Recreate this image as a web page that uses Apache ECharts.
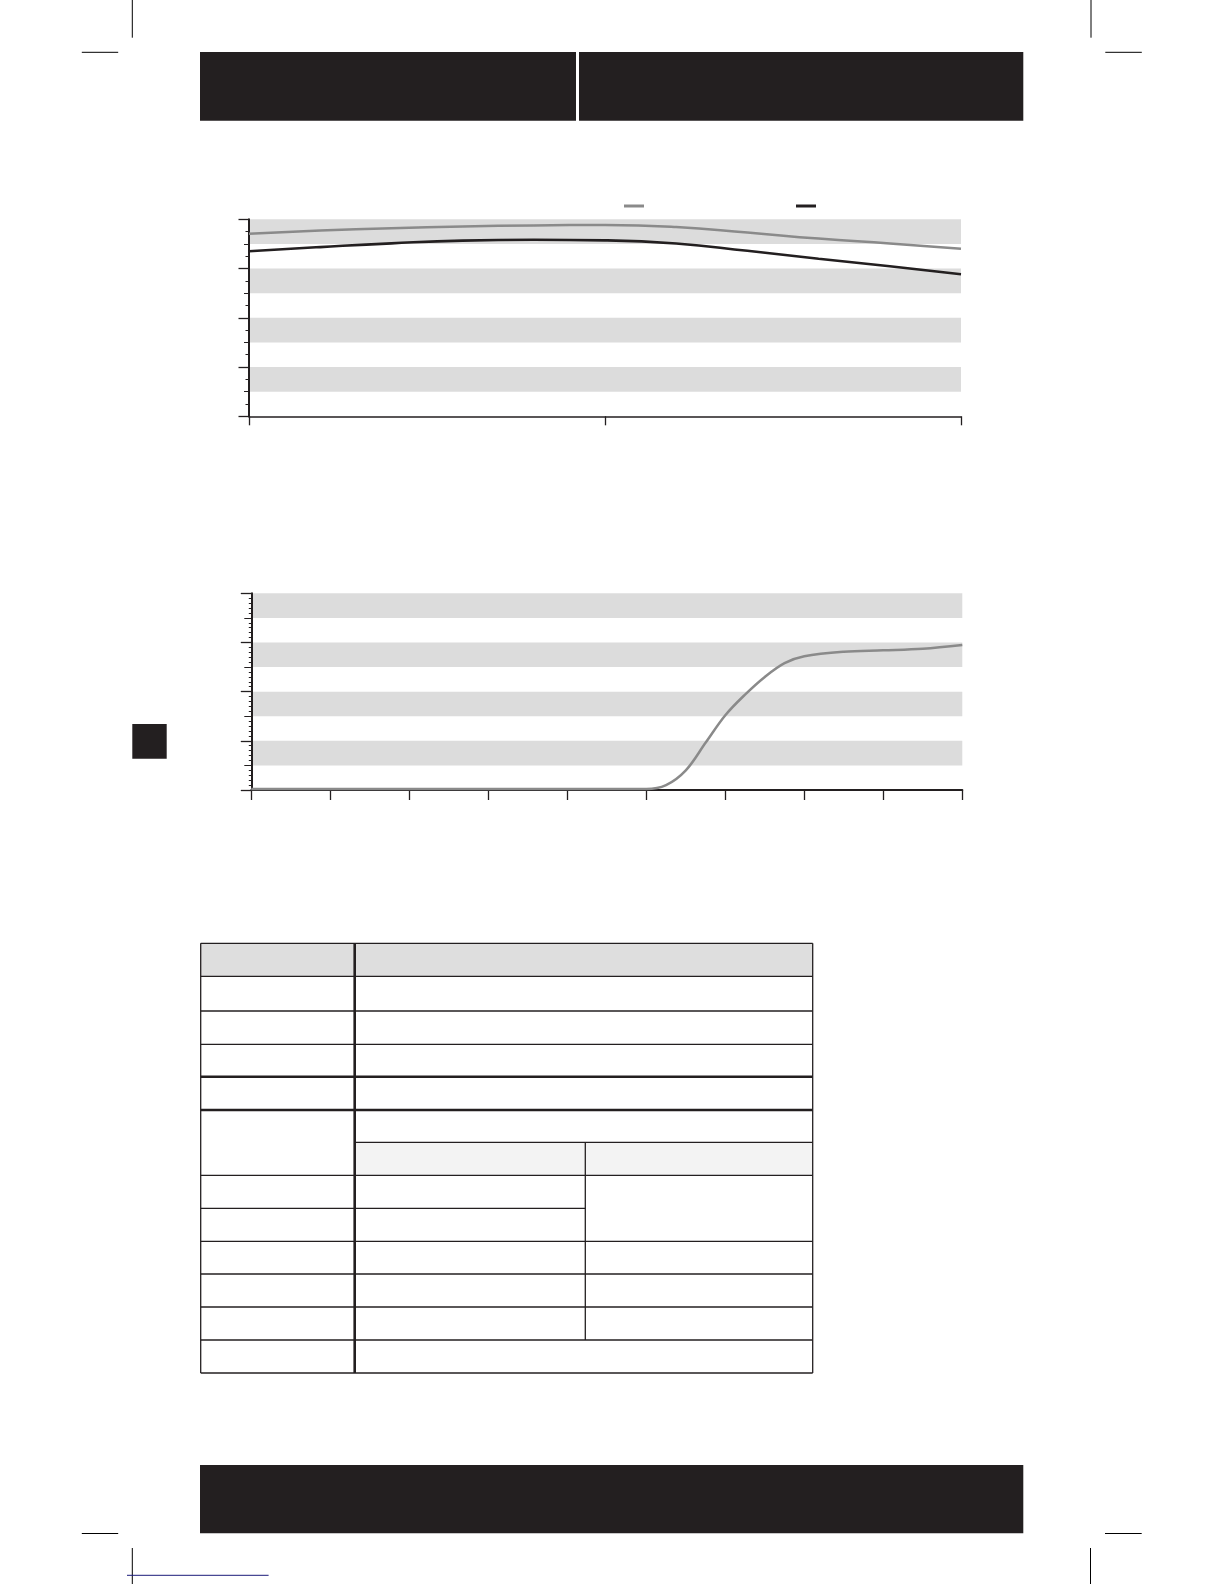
<!DOCTYPE html>
<html><head><meta charset="utf-8">
<script src="https://cdn.jsdelivr.net/npm/echarts@6/dist/echarts.min.js"></script>
<style>html,body{margin:0;padding:0;background:#fff}#c{width:1224px;height:1584px}</style>
</head><body><div id="c"></div>
<script>
// ---- data ----
const chart1X = [0, 10, 20, 30, 40, 50, 60, 70, 80, 90, 100];
const chart1Gray = [92.7, 94.3, 95.5, 96.4, 96.9, 97.1, 96.1, 93.3, 90.2, 87.7, 85.0];
const chart1Black = [83.8, 85.9, 87.8, 89.2, 89.6, 89.3, 87.7, 84.0, 80.0, 76.2, 72.1];
const chart2X = [0, 1, 2, 3, 4, 5, 5.25, 5.5, 5.75, 6, 6.25, 6.5, 6.75, 7, 7.5, 8, 8.5, 9];
const chart2Gray = [0.5, 0.5, 0.5, 0.5, 0.5, 0.5, 2.5, 10, 24, 38, 48.5, 57.5, 64.5, 68, 70.3, 71, 71.8, 73.7];
const seriesNames = ['s1', 's2', 's3'];

// ---- styles / layout ----
const INK = '#231f20';
const BAND = '#dcdcdc';
const GRAYLINE = '#8a8a8a';

function pairs(xs, ys) { return xs.map((x, i) => [x, ys[i]]); }

function line(x1, y1, x2, y2, w, color) {
  return { type: 'line', silent: true, shape: { x1, y1, x2, y2 },
    style: { stroke: color || INK, lineWidth: w || 1 } };
}
function rect(x, y, width, height, fill) {
  return { type: 'rect', silent: true, shape: { x, y, width, height }, style: { fill: fill || INK } };
}

// table geometry (layout only)
const TL = 200.7, C1 = 354.7, C2 = 585.3, TR = 812.7;
const R = [943.3, 976.3, 1011, 1044.3, 1076.7, 1110, 1142.3, 1175.3, 1208.3, 1241.3, 1274, 1307, 1340, 1373];
const thin = 1.3, thick = 2.6;
const tableEls = [
  rect(TL, R[0], TR - TL, R[1] - R[0], '#dedede'),
  rect(C1, R[6], TR - C1, R[7] - R[6], '#f3f3f3'),
];
R.forEach((y, i) => {
  let x1 = TL, x2 = TR, w = thin;
  if (i === 4 || i === 5) w = thick;
  if (i === 6) x1 = C1;
  if (i === 8) x2 = C2;
  tableEls.push(line(x1, y, x2, y, w));
});
tableEls.push(line(TL, R[0], TL, R[13], thin));
tableEls.push(line(C1, R[0], C1, R[13], thick));
tableEls.push(line(C2, R[6], C2, R[12], thin));
tableEls.push(line(TR, R[0], TR, R[13], thin));

const pageEls = [
  rect(200, 52, 376, 68.7), rect(579, 52, 444.3, 68.7),
  rect(200, 1465, 823.3, 68.3),
  rect(132.3, 724, 34.4, 34.7),
  line(132.3, 0, 132.3, 37.7, 1, '#000'), line(81.8, 52.3, 118.2, 52.3, 1, '#000'),
  line(1091, 0, 1091, 37.7, 1, '#000'), line(1105.3, 52.3, 1141.8, 52.3, 1, '#000'),
  line(81.8, 1533.5, 118.2, 1533.5, 1, '#000'), line(132.3, 1548, 132.3, 1584, 1, '#000'),
  line(1105, 1533.5, 1141.7, 1533.5, 1, '#000'), line(1090.5, 1548, 1090.5, 1584, 1, '#000'),
  line(127, 1575.3, 268.6, 1575.3, 1, '#1b1b7a'),
];

function yAxes(grid, minorSplit, minorLen, halfLen) {
  return [
    { gridIndex: grid, type: 'value', min: 0, max: 100, interval: 25, position: 'left',
      axisLine: { show: true, lineStyle: { color: INK, width: 2 } },
      axisTick: { show: true, length: 10.5, lineStyle: { color: INK, width: 1.3 } },
      minorTick: { show: true, splitNumber: minorSplit, length: minorLen, lineStyle: { color: INK, width: 1 } },
      axisLabel: { show: false }, splitLine: { show: false } },
    { gridIndex: grid, type: 'value', min: 0, max: 100, interval: 12.5, position: 'left',
      axisLine: { show: false },
      axisTick: { show: true, length: halfLen, lineStyle: { color: INK, width: 1 } },
      axisLabel: { show: false }, splitLine: { show: false },
      splitArea: { show: true, areaStyle: { color: ['rgba(255,255,255,0)', BAND] } } }
  ];
}

const option = {
  animation: false,
  backgroundColor: '#fff',
  grid: [
    { left: 249, top: 219.3, width: 712, height: 197 },
    { left: 251.3, top: 593.3, width: 711, height: 196.7 }
  ],
  legend: [
    { data: [seriesNames[0]], left: 624, top: 204.5, padding: 0, icon: 'rect', itemWidth: 20, itemHeight: 3,
      formatter: () => '', textStyle: { fontSize: 3, lineHeight: 3 }, selectedMode: false },
    { data: [seriesNames[1]], left: 796, top: 204.5, padding: 0, icon: 'rect', itemWidth: 20, itemHeight: 3,
      formatter: () => '', textStyle: { fontSize: 3, lineHeight: 3 }, selectedMode: false }
  ],
  xAxis: [
    { gridIndex: 0, type: 'value', min: 0, max: 100, interval: 50,
      axisLine: { show: true, lineStyle: { color: INK, width: 1.5 } },
      axisTick: { show: true, length: 9, lineStyle: { color: INK, width: 1.3 } },
      axisLabel: { show: false }, splitLine: { show: false } },
    { gridIndex: 1, type: 'value', min: 0, max: 9, interval: 1,
      axisLine: { show: true, lineStyle: { color: INK, width: 2 } },
      axisTick: { show: true, length: 10, lineStyle: { color: INK, width: 1.3 } },
      axisLabel: { show: false }, splitLine: { show: false } }
  ],
  yAxis: [...yAxes(0, 4, 3.5, 5), ...yAxes(1, 10, 2.5, 7)],
  series: [
    { name: seriesNames[0], type: 'line', xAxisIndex: 0, yAxisIndex: 0, data: pairs(chart1X, chart1Gray),
      smooth: 0.5, showSymbol: false, symbol: 'none', color: GRAYLINE, lineStyle: { color: GRAYLINE, width: 2.5 } },
    { name: seriesNames[1], type: 'line', xAxisIndex: 0, yAxisIndex: 0, data: pairs(chart1X, chart1Black),
      smooth: 0.5, showSymbol: false, symbol: 'none', color: INK, lineStyle: { color: INK, width: 2.6 } },
    { name: seriesNames[2], type: 'line', xAxisIndex: 1, yAxisIndex: 2, data: pairs(chart2X, chart2Gray),
      smooth: 0.35, showSymbol: false, symbol: 'none', color: GRAYLINE, lineStyle: { color: GRAYLINE, width: 2.5 } }
  ],
  graphic: { elements: [...pageEls, ...tableEls] }
};

const chart = echarts.init(document.getElementById('c'), null, { renderer: 'canvas' });
chart.setOption(option);
</script>
</body></html>
